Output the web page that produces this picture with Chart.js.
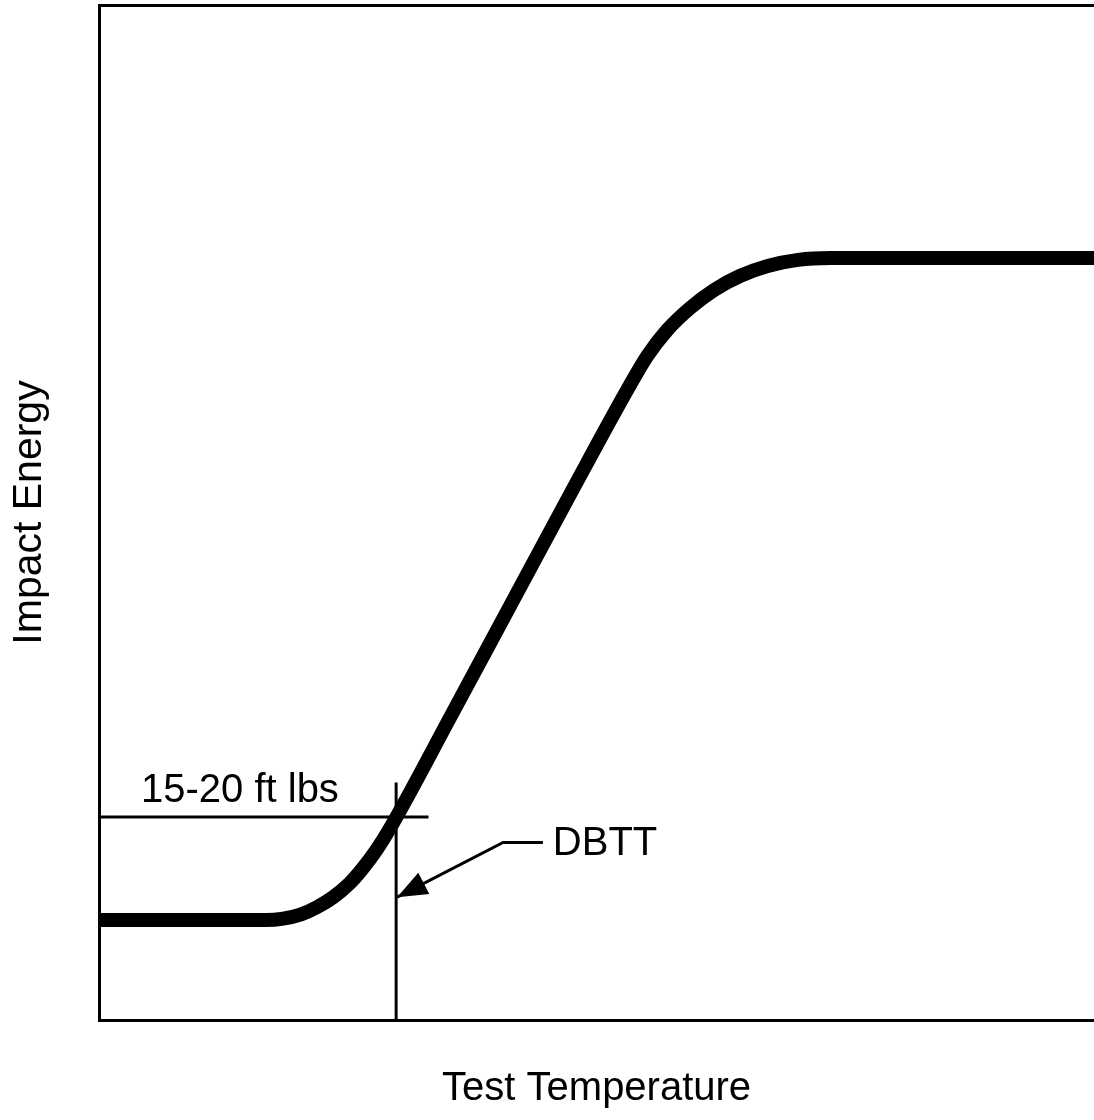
<!DOCTYPE html>
<html>
<head>
<meta charset="utf-8">
<title>Impact Energy vs Test Temperature</title>
<script src="https://cdn.jsdelivr.net/npm/chart.js@4.4.1/dist/chart.umd.min.js"></script>
<style>
  html, body { margin: 0; padding: 0; background: #fff; }
  #wrap { width: 1094px; height: 1120px; }
</style>
</head>
<body>
<div id="wrap"><canvas id="dbttChart" width="1094" height="1120"></canvas></div>
<script>
// transition curve (schematic units, 0..100 on both axes)
const tempX   = [0,    16.7, 18.5,  20.3,  21.9,  23.55, 25.1,  26.5,  27.9, 29.25, 35.3,  41.3,  47.3,  53.3,  55.1,  57.1,  59.4,  61.8,  64.4,  67.2,  70.25, 73.5,  100];
const energyY = [9.85, 9.85, 9.99,  10.41, 11.12, 12.12, 13.39, 14.95, 16.8, 18.92, 29.85, 40.79, 51.72, 62.46, 65.43, 67.98, 70.15, 71.92, 73.3,  74.29, 74.89, 75.07, 75.07];

// 15-20 ft lbs reference line
const refLineX = [0, 33.1];
const refLineY = [20.0, 20.0];

// DBTT vertical line
const dbttX = [29.85, 29.85];
const dbttY = [23.4, 0];

// arrow from the DBTT label to the vertical line (last point = tip)
const arrowX = [44.6, 40.6, 29.95];
const arrowY = [17.5, 17.5, 12.1];

// text notes, x = left edge, y = baseline
const noteText = ['15-20 ft lbs', 'DBTT'];
const noteX = [4.2, 45.6];
const noteY = [21.5, 16.3];

const FONT = "'Liberation Sans', Arial, Helvetica, sans-serif";

function pts(xs, ys){
  return xs.map((x, i) => ({ x: x, y: ys[i] }));
}

// arrowhead + text notes, placed through the scales
const notesPlugin = {
  id: 'notes',
  afterDatasetsDraw(chart){
    const ctx = chart.ctx;
    const sx = chart.scales.x, sy = chart.scales.y;
    ctx.save();

    const n = arrowX.length;
    const tx = sx.getPixelForValue(arrowX[n-1]), ty = sy.getPixelForValue(arrowY[n-1]);
    const px = sx.getPixelForValue(arrowX[n-2]), py = sy.getPixelForValue(arrowY[n-2]);
    const ang = Math.atan2(ty - py, tx - px);
    const len = 30, half = 12;
    const bx = tx - len * Math.cos(ang), by = ty - len * Math.sin(ang);
    ctx.fillStyle = '#000';
    ctx.beginPath();
    ctx.moveTo(tx, ty);
    ctx.lineTo(bx + half * Math.sin(ang), by - half * Math.cos(ang));
    ctx.lineTo(bx - half * Math.sin(ang), by + half * Math.cos(ang));
    ctx.closePath();
    ctx.fill();

    ctx.font = '40px ' + FONT;
    ctx.textAlign = 'left';
    ctx.textBaseline = 'alphabetic';
    noteText.forEach((t, i) => {
      ctx.fillText(t, sx.getPixelForValue(noteX[i]), sy.getPixelForValue(noteY[i]));
    });
    ctx.restore();
  }
};

const thin = { borderColor: '#000', borderWidth: 3, pointRadius: 0, tension: 0, fill: false };

new Chart(document.getElementById('dbttChart'), {
  type: 'line',
  data: {
    datasets: [
      Object.assign({ label: '15-20 ft lbs', data: pts(refLineX, refLineY) }, thin),
      Object.assign({ label: 'DBTT line', data: pts(dbttX, dbttY) }, thin),
      Object.assign({ label: 'arrow', data: pts(arrowX, arrowY), borderJoinStyle: 'miter' }, thin),
      {
        label: 'Impact Energy',
        data: pts(tempX, energyY),
        borderColor: '#000',
        borderWidth: 14,
        pointRadius: 0,
        cubicInterpolationMode: 'monotone',
        fill: false
      }
    ]
  },
  options: {
    responsive: false,
    animation: false,
    layout: { padding: { top: 5, right: 0, bottom: 0, left: 0 } },
    plugins: { legend: { display: false }, tooltip: { enabled: false } },
    scales: {
      x: {
        type: 'linear', position: 'bottom', min: 0, max: 100,
        ticks: { display: false },
        grid: { display: false, drawTicks: false },
        border: { display: true, color: '#000', width: 3 },
        title: {
          display: true, text: 'Test Temperature', color: '#000',
          font: { family: FONT, size: 40 },
          padding: { top: 45, bottom: 7 }
        }
      },
      xTop: {
        type: 'linear', position: 'top', min: 0, max: 100,
        ticks: { display: false },
        grid: { display: false, drawTicks: false },
        border: { display: true, color: '#000', width: 3 }
      },
      y: {
        type: 'linear', position: 'left', min: 0, max: 100,
        ticks: { display: false },
        grid: { display: false, drawTicks: false },
        border: { display: true, color: '#000', width: 3 },
        title: {
          display: true, text: 'Impact Energy', color: '#000',
          font: { family: FONT, size: 41 },
          padding: { top: 5, bottom: 45 }
        }
      }
    }
  },
  plugins: [notesPlugin]
});
</script>
</body>
</html>
